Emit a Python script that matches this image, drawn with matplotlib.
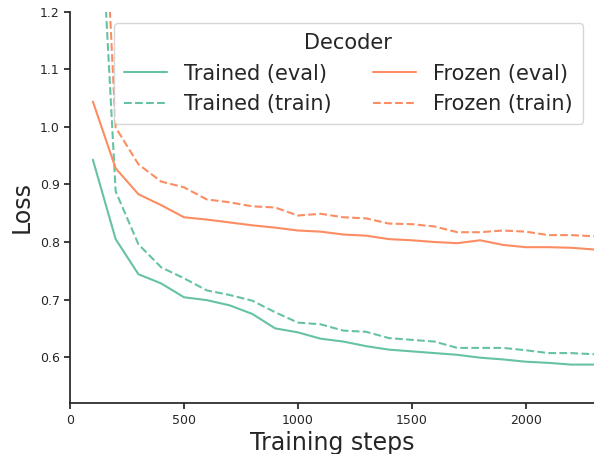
import matplotlib
matplotlib.use("Agg")
import matplotlib.pyplot as plt
import seaborn as sns

sns.set_theme(style="ticks")
plt.rcParams['font.family'] = ['DejaVu Sans']

# pasos de entrenamiento (cada 100)
steps = list(range(100, 2400, 100))

trained_eval = [0.943, 0.805, 0.744, 0.728, 0.704, 0.699, 0.690, 0.675, 0.650, 0.643,
                0.632, 0.627, 0.619, 0.613, 0.610, 0.607, 0.604, 0.599, 0.596, 0.592,
                0.590, 0.587, 0.587]
trained_train = [1.63, 0.888, 0.796, 0.756, 0.737, 0.716, 0.708, 0.698, 0.678, 0.660,
                 0.657, 0.646, 0.644, 0.633, 0.630, 0.627, 0.616, 0.616, 0.616, 0.612,
                 0.607, 0.607, 0.605]
frozen_eval = [1.044, 0.928, 0.883, 0.864, 0.843, 0.839, 0.834, 0.829, 0.825, 0.820,
               0.818, 0.813, 0.811, 0.805, 0.803, 0.800, 0.798, 0.803, 0.795, 0.791,
               0.791, 0.790, 0.787]
frozen_train = [1.8, 0.999, 0.935, 0.905, 0.895, 0.874, 0.869, 0.862, 0.860, 0.846,
                0.849, 0.843, 0.841, 0.832, 0.831, 0.827, 0.817, 0.817, 0.820, 0.818,
                0.812, 0.812, 0.810]

colors = sns.color_palette("Set2")
verde = colors[0]
naranja = colors[1]

fig, ax = plt.subplots(figsize=(5.94, 4.54), dpi=100)
fig.subplots_adjust(left=0.118, right=1.0, bottom=0.112, top=0.974)

ax.plot(steps, trained_eval, color=verde, linestyle='-', label="Trained (eval)")
ax.plot(steps, trained_train, color=verde, linestyle='--', label="Trained (train)")
ax.plot(steps, frozen_eval, color=naranja, linestyle='-', label="Frozen (eval)")
ax.plot(steps, frozen_train, color=naranja, linestyle='--', label="Frozen (train)")

ax.set_xlim(0, 2300)
ax.set_ylim(0.52, 1.2)
ax.set_xlabel("Training steps", fontsize=17, labelpad=3)
ax.set_ylabel("Loss", fontsize=17, labelpad=4)
ax.tick_params(labelsize=9, length=4.5, pad=3)

leg = ax.legend(title="Decoder", ncol=2, fontsize=15, title_fontsize=15,
                loc="upper right", bbox_to_anchor=(0.979, 0.972),
                borderaxespad=0, handlelength=2.07, handletextpad=0.82,
                columnspacing=1.95, borderpad=0.5)
sns.despine()

fig.savefig("out.png", dpi=100)
